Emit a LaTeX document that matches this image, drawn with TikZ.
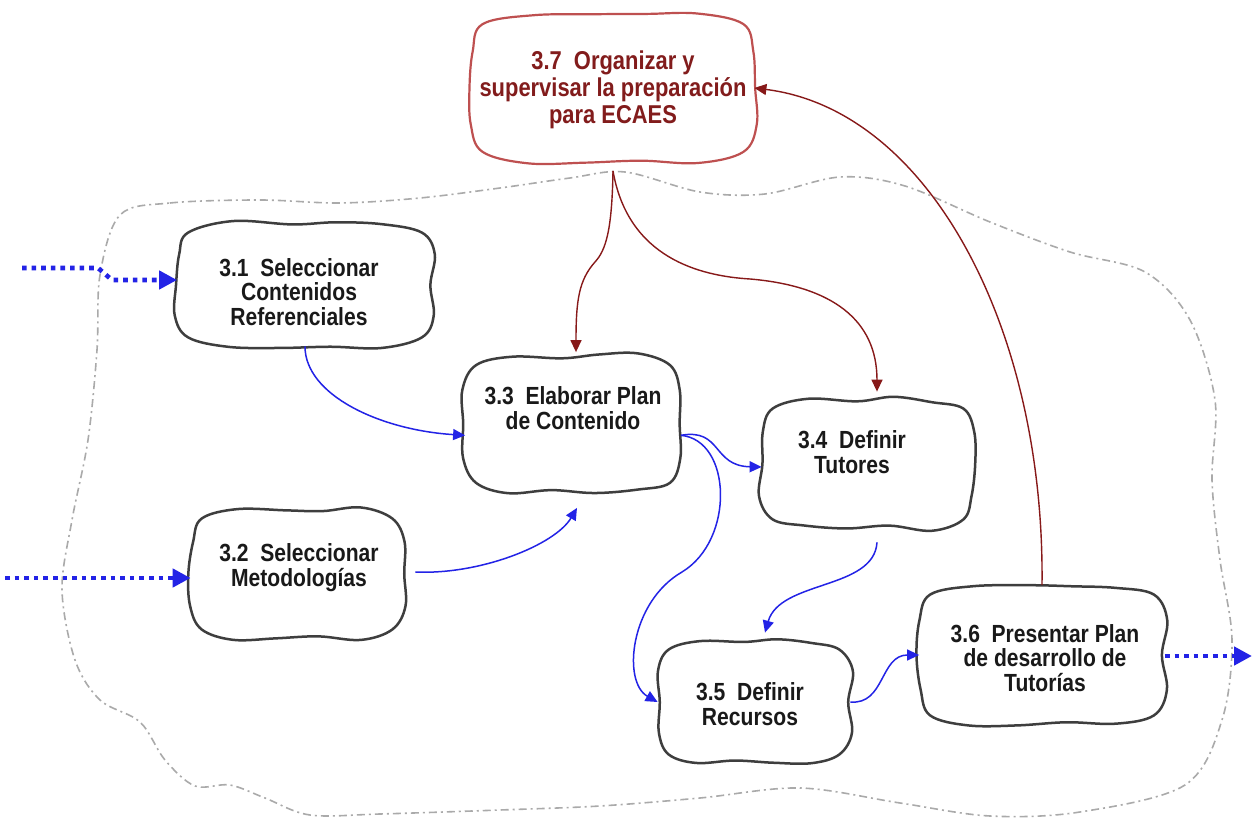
\documentclass[tikz,border=0pt]{standalone}
\usepackage{fontspec}
\setmainfont{Liberation Sans}[FakeStretch=0.85]
\usetikzlibrary{arrows.meta,calc}
\definecolor{boxline}{RGB}{62,62,62}
\definecolor{flowblue}{RGB}{35,35,230}
\definecolor{ctrlred}{RGB}{135,25,25}
\definecolor{redbox}{RGB}{190,80,80}
\definecolor{redtext}{RGB}{130,28,28}
\definecolor{cloudgray}{RGB}{170,170,170}
\tikzset{
  bsize/.style n args={2}{minimum width=#1*0.5pt, minimum height=#2*0.5pt},
  box/.style={inner sep=0pt},
  blob/.style={draw=boxline, line width=1.25pt},
  redblob/.style={draw=redbox, line width=1.1pt},
  txt/.style={font=\bfseries\fontsize{12.4}{12.4}\selectfont, align=center, text=black!90},
  redtxt/.style={txt, font=\bfseries\fontsize{12.9}{13.6}\selectfont, text=redtext},
  flow/.style={draw=flowblue, line width=0.75pt, -{Triangle[length=6pt,width=5.5pt]}},
  ctrl/.style={draw=ctrlred, line width=0.7pt, -{Triangle[length=6pt,width=5.5pt]}},
  inflow/.style={draw=flowblue, line width=2.3pt, dash pattern=on 2.3pt off 2.5pt,
    -{Triangle[length=9pt,width=9pt]}},
  cloud/.style={draw=cloudgray, line width=0.8pt, dash pattern=on 4pt off 2pt on 1pt off 2pt}
}
% hand-drawn outline around a rectangular node: #1 node name, #2 draw style
\newcommand\wobble[2]{%
  \draw[#2] plot[smooth cycle, tension=0.6] coordinates {
    ($(#1.north west)+(11,9)$)
    ($(#1.north west)!0.22!(#1.north east)+(0,{3*rand})$)
    ($(#1.north west)!0.45!(#1.north east)+(0,{3*rand})$)
    ($(#1.north west)!0.62!(#1.north east)+(0,{3*rand})$)
    ($(#1.north west)!0.80!(#1.north east)+(0,{3*rand})$)
    ($(#1.north east)+(-11,9)$)
    ($(#1.north east)!0.25!(#1.south east)+({3*rand},0)$)
    ($(#1.north east)!0.50!(#1.south east)+({3*rand},0)$)
    ($(#1.north east)!0.75!(#1.south east)+({3*rand},0)$)
    ($(#1.south east)+(-11,-9)$)
    ($(#1.south east)!0.20!(#1.south west)+(0,{3*rand})$)
    ($(#1.south east)!0.40!(#1.south west)+(0,{3*rand})$)
    ($(#1.south east)!0.60!(#1.south west)+(0,{3*rand})$)
    ($(#1.south east)!0.80!(#1.south west)+(0,{3*rand})$)
    ($(#1.south west)+(11,-9)$)
    ($(#1.south west)!0.25!(#1.north west)+({3*rand},0)$)
    ($(#1.south west)!0.50!(#1.north west)+({3*rand},0)$)
    ($(#1.south west)!0.75!(#1.north west)+({3*rand},0)$)
  };}
\begin{document}
\begin{tikzpicture}[x=0.5pt,y=-0.5pt]
\pgfmathsetseed{11}
\useasboundingbox (0,0) rectangle (1254,823);
\fill[white] (0,0) rectangle (1254,823);

% process boundary
\draw[cloud] plot[smooth cycle, tension=0.55] coordinates {
  (120,215) (170,203) (260,200) (340,203) (420,198) (500,188) (570,178)
  (625,172) (700,192) (765,194) (840,177) (905,186) (990,222) (1070,252)
  (1145,272) (1190,320) (1215,400) (1212,480) (1220,560) (1232,640)
  (1222,720) (1185,785) (1080,812) (990,816) (900,803) (800,788) (700,798)
  (600,806) (500,810) (380,814) (310,815) (265,798) (230,785) (195,786)
  (165,760) (140,722) (100,700) (75,660) (62,590) (72,520) (88,440)
  (97,350) (100,275)};

% activities
\node[box, bsize={282}{145}] (n37) at (613,88) {};
\wobble{n37}{redblob}
\node[redtxt] (t37) at (613,90) {3.7\ \ Organizar y\\supervisar la preparación\\para ECAES};

\node[box, bsize={255}{122}] (n31) at (305,285) {};
\wobble{n31}{blob}
\node[txt] (t31) at (299,292) {3.1\ \ Seleccionar\\Contenidos\\Referenciales};

\node[box, bsize={212}{128}] (n32) at (297,574) {};
\wobble{n32}{blob}
\node[txt] (t32) at (299,568) {3.2\ \ Seleccionar\\Metodologías};

\node[box, bsize={215}{135}] (n33) at (573,424) {};
\wobble{n33}{blob}
\node[txt] (t33) at (573,408) {3.3\ \ Elaborar Plan\\de Contenido};

\node[box, bsize={212}{128}] (n34) at (868,464) {};
\wobble{n34}{blob}
\node[txt] (t34) at (852,452) {3.4\ \ Definir\\Tutores};

\node[box, bsize={192}{122}] (n35) at (754,702) {};
\wobble{n35}{blob}
\node[txt] (t35) at (750,704) {3.5\ \ Definir\\Recursos};

\node[box, bsize={245}{138}] (n36) at (1042,655) {};
\wobble{n36}{blob}
\node[txt] (t36) at (1045,658) {3.6\ \ Presentar Plan\\de desarrollo de\\Tutorías};

% inputs and output
\coordinate (in1) at (22,268);
\coordinate (k1) at (98,268);
\coordinate (k2) at (112,280);
\draw[inflow] (in1) -- (k1) -- (k2) -- (n31.west |- k2);
\coordinate (in2) at (5,578);
\draw[inflow] (in2) -- (n32.west |- in2);
\coordinate (out) at (1252,656);
\draw[inflow] (n36.east |- out) -- (out);

% information flow
\coordinate (h34) at (0,467);
\draw[flow] (n31.south) .. controls (305,395) and (380,430) .. (n33.186);
\draw[flow] ($(n32.east)+(12,-2)$) .. controls (480,575) and (555,545) .. ($(n33.south)+(4,16)$);
\draw[flow] (n33.-6) .. controls (722,428) and (712,466) .. (n34.west |- h34);
\draw[flow] (n33.-6) .. controls (732,440) and (735,540) .. (682,572)
  .. controls (630,602) and (622,682) .. (n35.west);
\draw[flow] ($(n34.south)+(9,14)$) .. controls (874,590) and (780,580) .. ($(n35.north)+(11,-8)$);
\draw[flow] (n35.east) .. controls (885,705) and (880,655) .. (n36.west);

% coordination
\coordinate (v36) at (0,585);
\draw[ctrl] ($(n37.south)+(0,10)$) .. controls (612,230) and (606,250) .. (595,262)
  .. controls (579,280) and (576,300) .. ($(n33.north)+(3,-4)$);
\draw[ctrl] ($(n37.south)+(0,10)$) .. controls (628,258) and (700,276) .. (750,279)
  .. controls (832,286) and (877,320) .. ($(n34.north)+(9,-8)$);
\draw[ctrl] (n36.north |- v36) .. controls (1045,330) and (930,110) .. (n37.east);
\end{tikzpicture}
\end{document}
